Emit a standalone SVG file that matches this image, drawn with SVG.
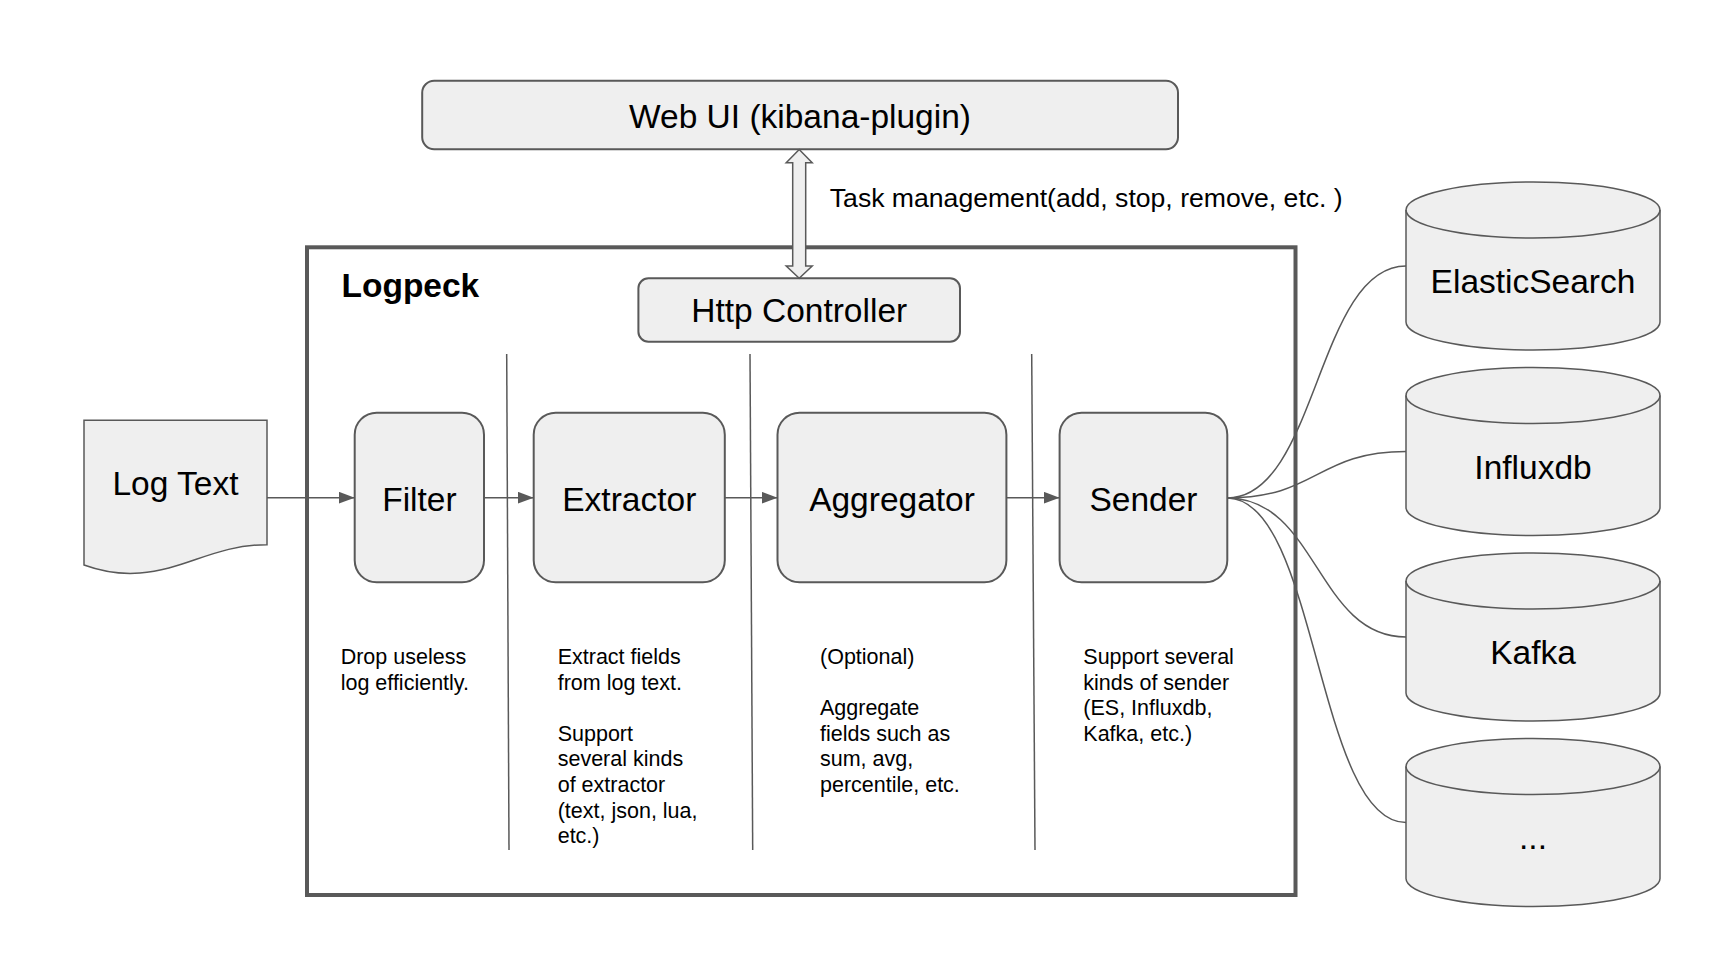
<svg xmlns="http://www.w3.org/2000/svg" width="1720" height="966" viewBox="0 0 1720 966">
<defs>
<marker id="ah" markerUnits="userSpaceOnUse" markerWidth="16" markerHeight="12" refX="16" refY="6" orient="auto">
<path d="M0,0 L16,6 L0,12 Z" fill="#595959"/>
</marker>
</defs>
<style>
text{font-family:"Liberation Sans",Arial,sans-serif;fill:#000}
.big{font-size:33.5px;text-anchor:middle}
.desc{font-size:21.5px}
.box{fill:#efefef;stroke:#595959;stroke-width:2}
.cyl{fill:#efefef;stroke:#595959;stroke-width:1.5}
.ln{fill:none;stroke:#595959;stroke-width:1.5}
</style>
<rect width="1720" height="966" fill="#fff"/>

<g id="logpeck">
<rect x="307" y="247.3" width="988.5" height="647.7" fill="#fff" stroke="#595959" stroke-width="4"/>
<text x="341.5" y="297.3" style="font-size:33.5px;font-weight:bold">Logpeck</text>
</g>

<g id="webui">
<rect class="box" x="422.2" y="80.7" width="755.8" height="68.6" rx="12"/>
<text class="big" x="800" y="128.3">Web UI (kibana-plugin)</text>
</g>

<g id="http-controller">
<rect class="box" x="638.4" y="278.3" width="321.6" height="63.4" rx="10"/>
<text class="big" x="799.2" y="321.7">Http Controller</text>
</g>

<g id="dividers">
<line class="ln" x1="506.7" y1="354" x2="509" y2="850"/>
<line class="ln" x1="750" y1="354" x2="752.7" y2="850"/>
<line class="ln" x1="1031.7" y1="354" x2="1035" y2="850"/>
</g>

<g id="log-text">
<path class="cyl" d="M84,420.3 H267 V544.7 C215,544.7 185,570 140,573 C115,575 95,569 84,565 Z"/>
<text class="big" x="175.5" y="495">Log Text</text>
</g>

<g id="filter">
<rect class="box" x="354.7" y="412.7" width="129.3" height="169.6" rx="22"/>
<text class="big" x="419.4" y="510.5">Filter</text>
<text class="desc" x="340.7" y="664">Drop useless</text>
<text class="desc" x="340.7" y="689.6">log efficiently.</text>
</g>

<g id="extractor">
<rect class="box" x="533.7" y="412.7" width="191.1" height="169.6" rx="22"/>
<text class="big" x="629.3" y="510.5">Extractor</text>
<text class="desc" x="557.7" y="664">Extract fields</text>
<text class="desc" x="557.7" y="689.6">from log text.</text>
<text class="desc" x="557.7" y="740.8">Support</text>
<text class="desc" x="557.7" y="766.4">several kinds</text>
<text class="desc" x="557.7" y="792">of extractor</text>
<text class="desc" x="557.7" y="817.6">(text, json, lua,</text>
<text class="desc" x="557.7" y="843.2">etc.)</text>
</g>

<g id="aggregator">
<rect class="box" x="777.5" y="412.7" width="228.9" height="169.6" rx="22"/>
<text class="big" x="892" y="510.5">Aggregator</text>
<text class="desc" x="820" y="664">(Optional)</text>
<text class="desc" x="820" y="715.2">Aggregate</text>
<text class="desc" x="820" y="740.8">fields such as</text>
<text class="desc" x="820" y="766.4">sum, avg,</text>
<text class="desc" x="820" y="792">percentile, etc.</text>
</g>

<g id="sender">
<rect class="box" x="1059.6" y="412.7" width="167.7" height="169.6" rx="22"/>
<text class="big" x="1143.5" y="510.5">Sender</text>
<text class="desc" x="1083.3" y="664">Support several</text>
<text class="desc" x="1083.3" y="689.6">kinds of sender</text>
<text class="desc" x="1083.3" y="715.2">(ES, Influxdb,</text>
<text class="desc" x="1083.3" y="740.8">Kafka, etc.)</text>
</g>

<g id="elasticsearch">
<path class="cyl" d="M1406,210 A127,28 0 0 1 1660,210 V322 A127,28 0 0 1 1406,322 Z"/>
<path class="ln" d="M1406,210 A127,28 0 0 0 1660,210"/>
<text class="big" x="1533" y="293.3">ElasticSearch</text>
</g>

<g id="influxdb">
<path class="cyl" d="M1406,395.5 A127,28 0 0 1 1660,395.5 V507.5 A127,28 0 0 1 1406,507.5 Z"/>
<path class="ln" d="M1406,395.5 A127,28 0 0 0 1660,395.5"/>
<text class="big" x="1533" y="478.5">Influxdb</text>
</g>

<g id="kafka">
<path class="cyl" d="M1406,581 A127,28 0 0 1 1660,581 V693 A127,28 0 0 1 1406,693 Z"/>
<path class="ln" d="M1406,581 A127,28 0 0 0 1660,581"/>
<text class="big" x="1533" y="663.5">Kafka</text>
</g>

<g id="more">
<path class="cyl" d="M1406,766.5 A127,28 0 0 1 1660,766.5 V878.5 A127,28 0 0 1 1406,878.5 Z"/>
<path class="ln" d="M1406,766.5 A127,28 0 0 0 1660,766.5"/>
<text class="big" x="1533" y="849">...</text>
</g>

<g id="connectors">
<line class="ln" x1="267" y1="497.7" x2="354.7" y2="497.7" marker-end="url(#ah)"/>
<line class="ln" x1="484" y1="497.7" x2="533.7" y2="497.7" marker-end="url(#ah)"/>
<line class="ln" x1="724.8" y1="497.7" x2="777.5" y2="497.7" marker-end="url(#ah)"/>
<line class="ln" x1="1006.4" y1="497.7" x2="1059.6" y2="497.7" marker-end="url(#ah)"/>
<polygon points="799.2,149.5 812.2,162.7 805.7,162.7 805.7,266 812.2,266 799.2,278.3 786.2,266 792.7,266 792.7,162.7 786.2,162.7" fill="#efefef" stroke="#595959" stroke-width="1.5"/>
<text x="829.8" y="206.7" style="font-size:26.6px">Task management(add, stop, remove, etc. )</text>
<path class="ln" d="M1227.3,498 C1317,498 1317,266 1406,266"/>
<path class="ln" d="M1227.3,498 C1317,498 1317,451.5 1406,451.5"/>
<path class="ln" d="M1227.3,498 C1317,498 1317,637 1406,637"/>
<path class="ln" d="M1227.3,498 C1317,498 1317,822.5 1406,822.5"/>
</g>
</svg>
